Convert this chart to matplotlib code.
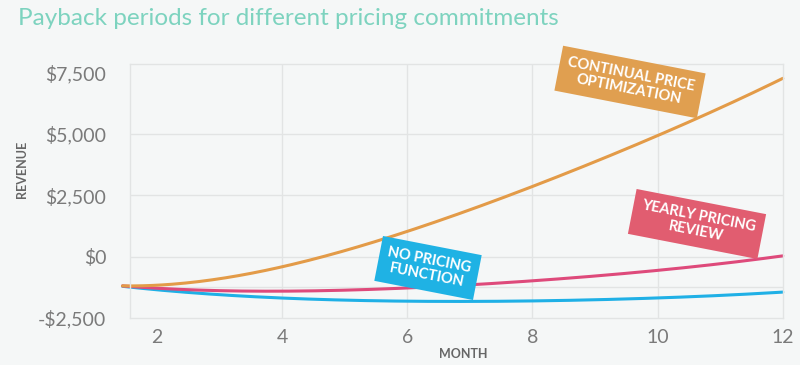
import matplotlib.pyplot as plt
import numpy as np

plt.rcParams["font.family"] = ["Lato", "DejaVu Sans"]

# data
months = [1.45, 2, 3, 4, 5, 6, 7, 8, 9, 10, 11, 12]
continual = [-1200, -1150, -900, -450, 200, 1150, 1900, 2800, 3850, 4950, 6100, 7250]
yearly = [-1200, -1290, -1370, -1410, -1380, -1300, -1140, -970, -790, -560, -310, 40]
no_pricing = [-1200, -1370, -1550, -1690, -1770, -1810, -1830, -1820, -1760, -1680, -1580, -1450]

yticks = [-2500, 0, 2500, 5000, 7500]
ylabels = ["-$2,500", "$0", "$2,500", "$5,000", "$7,500"]
xticks = [2, 4, 6, 8, 10, 12]
hgrid = [-1250, 0, 2500, 5000]

bg = "#f5f7f7"
c_orange, c_orange_box = "#e39b48", "#e09f50"
c_pink, c_pink_box = "#de4a7b", "#e15d70"
c_blue, c_blue_box = "#1fb0e6", "#1fb2e4"

fig = plt.figure(figsize=(8, 3.65), dpi=100, facecolor=bg)
ax = fig.add_axes([0.1625, 0.129, 0.816, 0.696], facecolor=bg)

for v in hgrid:
    ax.axhline(v, color="#e2e4e4", lw=1, zorder=0)
for v in [4, 6, 8, 10]:
    ax.axvline(v, color="#e2e4e4", lw=1, zorder=0)

def smooth(x, y):
    xs = np.linspace(x[0], x[-1], 200)
    c = np.polyfit(x, y, 4)
    return xs, np.polyval(c, xs)

for ys, col in [(no_pricing, c_blue), (yearly, c_pink), (continual, c_orange)]:
    xs, yy = smooth(months, ys)
    ax.plot(xs, yy, color=col, lw=2.2, clip_on=False, solid_capstyle="round")

ax.set_xlim(1.57, 12)
ax.set_ylim(-2500, 7860)
ax.set_xticks(xticks)
ax.set_yticks(yticks)
ax.set_yticklabels(ylabels)
ax.tick_params(length=0, labelsize=14, labelcolor="#7a7a7a", pad=8)
ax.tick_params(axis="y", pad=17)
for s in ax.spines.values():
    s.set_color("#e2e4e4")
    s.set_linewidth(1)

fig.text(0.028, 0.535, "REVENUE", rotation=90, ha="center", va="center",
         fontsize=9, fontweight="bold", color="#666666")
fig.text(0.579, 0.03, "MONTH", ha="center", va="center",
         fontsize=9, fontweight="bold", color="#666666")

fig.text(0.022, 0.95, "Payback periods for different pricing commitments",
         ha="left", va="center", fontsize=17.5, color="#7dd3bf")

def tag(x, y, s, col):
    fig.text(x / 800, 1 - y / 365, s, ha="center", va="center", rotation=-11,
             fontsize=10.5, fontweight="bold", color="white", linespacing=1.15,
             multialignment="center", rotation_mode="anchor",
             bbox=dict(boxstyle="square,pad=0.55", fc=col, ec="none"))

tag(630, 82, "CONTINUAL PRICE\nOPTIMIZATION", c_orange_box)
tag(697, 224, "YEARLY PRICING\nREVIEW", c_pink_box)
tag(428, 268, "NO PRICING\nFUNCTION", c_blue_box)

fig.savefig("out.png", dpi=100, facecolor=bg)
